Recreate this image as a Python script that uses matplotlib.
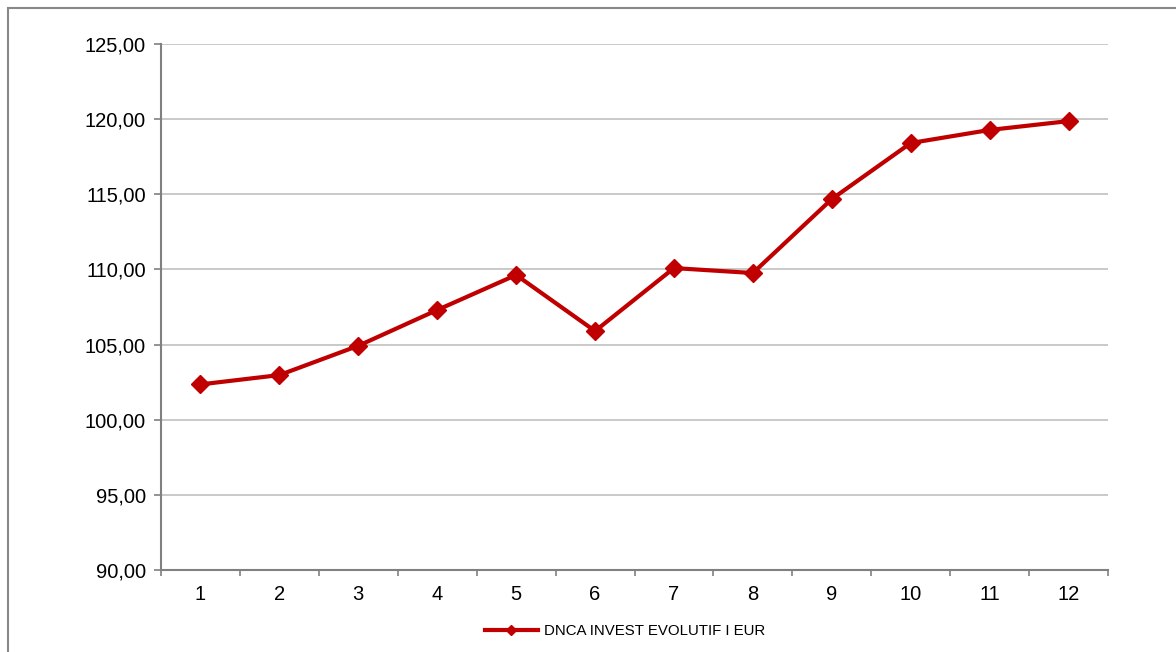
import matplotlib
matplotlib.use("Agg")
import matplotlib.pyplot as plt
from matplotlib.patches import Rectangle
from matplotlib.lines import Line2D
from matplotlib.ticker import FixedLocator, FuncFormatter

plt.rcParams['font.family'] = ['Liberation Sans', 'DejaVu Sans']

# data
months = [1, 2, 3, 4, 5, 6, 7, 8, 9, 10, 11, 12]
values = [102.35, 102.97, 104.92, 107.30, 109.63, 105.90,
          110.09, 109.76, 114.68, 118.41, 119.28, 119.87]
series_name = "DNCA INVEST EVOLUTIF I EUR"

W, H = 1176, 652
fig = plt.figure(figsize=(W / 100, H / 100), dpi=100)
ax = fig.add_axes([161 / W, 1 - 570 / H, (1108 - 161) / W, (570 - 44) / H])

red = '#c00000'
grid_col = '#c0c0c0'
axis_col = '#808080'

ax.plot(months, values, color=red, linewidth=3, marker='D', markersize=9.5,
        markeredgecolor=red, markerfacecolor=red, zorder=3)

ax.set_xlim(0.5, 12.5)
ax.set_ylim(90, 125)
ax.set_yticks([90, 95, 100, 105, 110, 115, 120, 125])
ax.yaxis.set_major_formatter(FuncFormatter(lambda v, p: f"{v:.2f}".replace('.', ',')))
ax.set_xticks(months)
ax.set_xticklabels([str(m) for m in months])
ax.xaxis.set_minor_locator(FixedLocator([m + 0.5 for m in range(0, 13)]))

ax.grid(axis='y', color=grid_col, linewidth=1.2)
ax.set_axisbelow(True)
for s in ['top', 'right']:
    ax.spines[s].set_visible(False)
for s in ['left', 'bottom']:
    ax.spines[s].set_color(axis_col)
    ax.spines[s].set_linewidth(1.5)

ax.tick_params(axis='x', which='major', length=0, pad=11, labelsize=14.5)
ax.tick_params(axis='x', which='minor', length=4, color=axis_col, width=1.2)
ax.tick_params(axis='y', length=5, color=axis_col, width=1.2, pad=6, labelsize=14.5)

# legend below the plot
handle = Line2D([], [], color=red, linewidth=3, marker='D', markersize=5.5)
fig.legend([handle], [series_name], loc='center', bbox_to_anchor=(625 / W, 1 - 631 / H),
           frameon=False, fontsize=10.8, handlelength=3.5, handletextpad=0.4)

# outer chart frame (runs off the right and bottom edges)
fig.add_artist(Rectangle((8 / W, -0.05), 1.1, 1 - 8 / H + 0.05, transform=fig.transFigure,
                         fill=False, edgecolor='#888888', linewidth=1.5, clip_on=False))

fig.savefig('out.png', dpi=100)
